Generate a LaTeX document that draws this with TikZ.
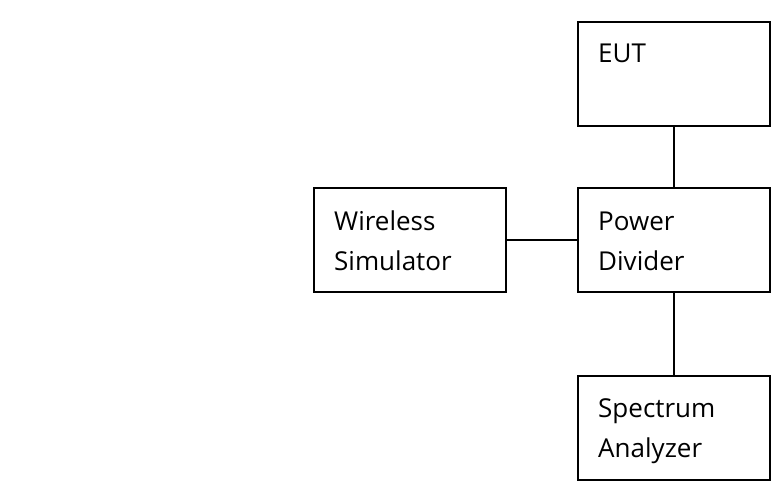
\documentclass[tikz,border=0pt]{standalone}
\usepackage{fontspec}
\setmainfont{Open Sans}
\begin{document}
\begin{tikzpicture}[x=1pt,y=-1pt,
  blk/.style={draw=black,line width=2pt,minimum width=192pt,minimum height=104pt,inner sep=0pt,anchor=north west},
  lbl/.style={anchor=base west,inner sep=0pt,font=\fontsize{26}{40}\selectfont},
  wire/.style={draw=black,line width=1.7pt}]
\useasboundingbox (0,0) rectangle (771,484);
\node[blk] (eut) at (577,21) {};
\node[blk] (pd) at (577,187) {};
\node[blk] (sa) at (577,375) {};
\node[blk] (ws) at (313,187) {};
\node[lbl] (teut) at (598,63) {EUT};
\node[lbl] (tpd1) at (598,230) {Power};
\node[lbl] (tpd2) at (598,270) {Divider};
\node[lbl] (tsa1) at (598,417) {Spectrum};
\node[lbl] (tsa2) at (598,457) {Analyzer};
\node[lbl] (tws1) at (334,230) {Wireless};
\node[lbl] (tws2) at (334,270) {Simulator};
\draw[wire] (ws.east) -- (pd.west);
\draw[wire] (eut.south) -- (pd.north);
\draw[wire] (pd.south) -- (sa.north);
\end{tikzpicture}
\end{document}
